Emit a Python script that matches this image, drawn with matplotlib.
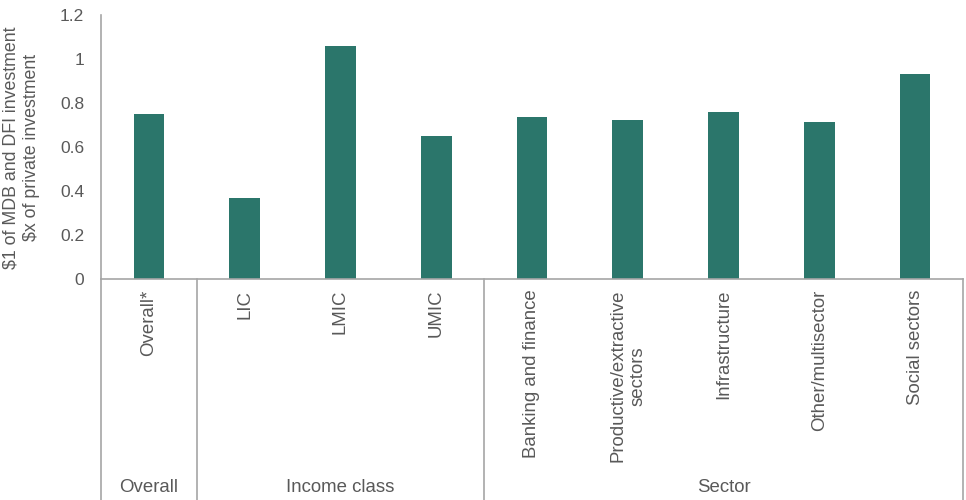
import matplotlib
matplotlib.use("Agg")
from matplotlib import pyplot as plt

plt.rcParams['font.family'] = ['Liberation Sans', 'DejaVu Sans']

categories = ["Overall*", "LIC", "LMIC", "UMIC", "Banking and finance",
              "Productive/extractive\nsectors", "Infrastructure",
              "Other/multisector", "Social sectors"]
values = [0.75, 0.37, 1.06, 0.65, 0.735, 0.725, 0.76, 0.715, 0.93]
groups = ["Overall", "Income class", "Sector"]
group_start = [0, 1, 4]
group_end = [0, 3, 8]

bar_color = "#2b766b"
text_color = "#595959"
line_color = "#a6a6a6"

fig = plt.figure(figsize=(9.66, 5), dpi=100)
ax = fig.add_axes([101 / 966, 221 / 500, 862 / 966, 264 / 500])

x = list(range(len(categories)))
ax.bar(x, values, width=0.32, color=bar_color)

ax.set_xlim(-0.5, len(categories) - 0.5)
ax.set_ylim(0, 1.2)
ax.set_yticks([0, 0.2, 0.4, 0.6, 0.8, 1, 1.2])
ax.set_yticklabels(["0", "0.2", "0.4", "0.6", "0.8", "1", "1.2"])
ax.tick_params(axis='y', length=0, pad=12, labelsize=12.5, labelcolor=text_color)
ax.set_xticks([])

for side in ["top", "right"]:
    ax.spines[side].set_visible(False)
for side in ["left", "bottom"]:
    ax.spines[side].set_color(line_color)
    ax.spines[side].set_linewidth(1.2)

trans = ax.get_xaxis_transform()
bottom = -221 / 264

# category labels under the axis
for i, lab in enumerate(categories):
    ax.text(i, -0.04, lab, transform=trans, rotation=90, ha='center', va='top',
            fontsize=13.4, color=text_color, multialignment='center')

# group separators and group names
edges = [-0.5] + [e + 0.5 for e in group_end]
for e in edges:
    ax.plot([e, e], [0, bottom], transform=trans, color=line_color,
            lw=1.2, clip_on=False)
for g, s, e in zip(groups, group_start, group_end):
    ax.text((s + e) / 2, -0.79, g, transform=trans, ha='center', va='center',
            fontsize=13.4, color=text_color)

fig.text(0.022, 0.705, "\\$1 of MDB and DFI investment\n\\$x of private investment",
         rotation=90, ha='center', va='center', fontsize=12.8, color=text_color,
         linespacing=1.3)

fig.savefig("out.png", dpi=100)
